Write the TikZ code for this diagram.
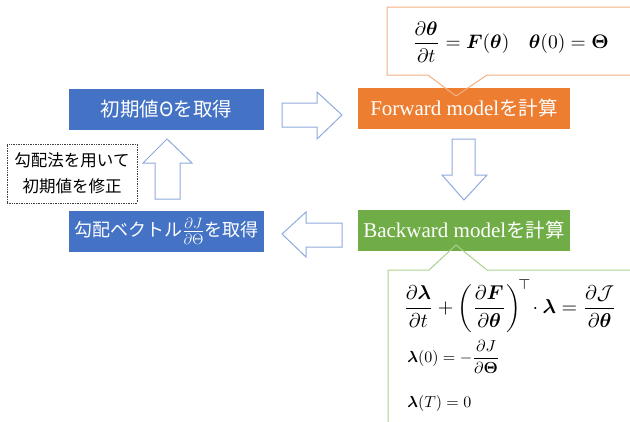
\documentclass[tikz,border=0pt]{standalone}
\usepackage{amsmath,bm,graphicx}
\usepackage{fontspec}
\setmainfont{Liberation Serif}
\newfontfamily\jp{Noto Sans CJK JP}
\definecolor{boxblue}{HTML}{4472C4}
\definecolor{boxorange}{HTML}{ED7D31}
\definecolor{boxgreen}{HTML}{70AD47}
\definecolor{lineorange}{HTML}{F4B183}
\definecolor{linegreen}{HTML}{A9D18E}
\definecolor{arrowblue}{HTML}{8FAADC}
\tikzset{
  flowbox/.style={rectangle, inner sep=0pt, text=white,
    minimum height=41pt, font=\fontsize{19.5}{22}\selectfont},
  blockarrow/.style={draw=arrowblue, fill=white, line width=1pt, line join=miter},
  notebox/.style={rectangle, draw=black!75, densely dotted, line width=0.7pt,
    align=center, inner sep=0pt, minimum width=130pt, minimum height=59pt,
    font=\jp\fontsize{16.5}{26}\selectfont},
  eqnode/.style={inner sep=0pt, anchor=west}
}
\newcommand\latinpart[1]{{\fontsize{21}{22}\selectfont #1}}
\begin{document}
\begin{tikzpicture}[x=1pt,y=-1pt]
\useasboundingbox (0,0) rectangle (630,421);
\clip (0,0) rectangle (630,421);

% callout bodies (white fill, outlines drawn after the boxes)
\fill[white] (387,7) -- (640,7) -- (640,75) -- (487,75) -- (456,96) -- (428,75) -- (387,75) -- cycle;
\fill[white] (456,245) -- (487,270) -- (640,270) -- (640,430) -- (388,430) -- (388,270) -- (429,270) -- cycle;

% process boxes
\node[flowbox, fill=boxblue, minimum width=195pt] (init) at (166.5,109)
  {\jp 初期値Θを取得};
\node[flowbox, fill=boxorange, minimum width=212pt] (fwd) at (464,108.5)
  {\latinpart{Forward model}{\jp を計算}};
\node[flowbox, fill=boxgreen, minimum width=212pt] (bwd) at (464,230)
  {\latinpart{Backward model}{\jp を計算}};
\node[flowbox, fill=boxblue, minimum width=195pt, font=\fontsize{18}{20}\selectfont] (grad) at (166.5,231)
  {\jp 勾配ベクトル\scalebox{1.25}{$\frac{\partial J}{\partial \Theta}$}を取得};

% note beside the update step
\node[notebox] (note) at (72,173.5) {勾配法を用いて\\初期値を修正};

% callout outlines
\draw[lineorange, line width=1pt] (387,7) -- (640,7) -- (640,75) -- (487,75) -- (456,96) -- (428,75) -- (387,75) -- cycle;
\draw[linegreen, line width=1pt] (456,245) -- (487,270) -- (640,270) -- (640,430) -- (388,430) -- (388,270) -- (429,270) -- cycle;

% forward model equations
\node[eqnode, scale=1.95] (eqf) at (412,42)
  {$\displaystyle\frac{\partial\bm\theta}{\partial t}=\bm F(\bm\theta)\quad\bm\theta(0)=\bm\Theta$};

% backward model equations
\node[eqnode, scale=2.0] (eqb) at (403,306)
  {$\displaystyle\frac{\partial\bm\lambda}{\partial t}+\left(\frac{\partial\bm F}{\partial\bm\theta}\right)^{\!\top}\!\cdot\bm\lambda=\frac{\partial\mathcal J}{\partial\bm\theta}$};
\node[eqnode, scale=1.6] (eqi) at (407,357)
  {$\bm\lambda(0)=-\dfrac{\partial J}{\partial\bm\Theta}$};
\node[eqnode, scale=1.6] (eqt) at (407,403)
  {$\bm\lambda(T)=0$};

% block arrows between the steps
\draw[blockarrow] (282,103) -- (317,103) -- (317,92) -- (342,115) -- (317,139) -- (317,127) -- (282,127) -- cycle;
\draw[blockarrow] (452,139) -- (475,139) -- (475,175) -- (487,175) -- (464,200) -- (442,175) -- (452,175) -- cycle;
\draw[blockarrow] (342,223) -- (306,223) -- (306,212) -- (282,234) -- (306,257) -- (306,247) -- (342,247) -- cycle;
\draw[blockarrow] (155,199) -- (155,163) -- (143,163) -- (167,139) -- (192,163) -- (180,163) -- (180,199) -- cycle;
\end{tikzpicture}
\end{document}
